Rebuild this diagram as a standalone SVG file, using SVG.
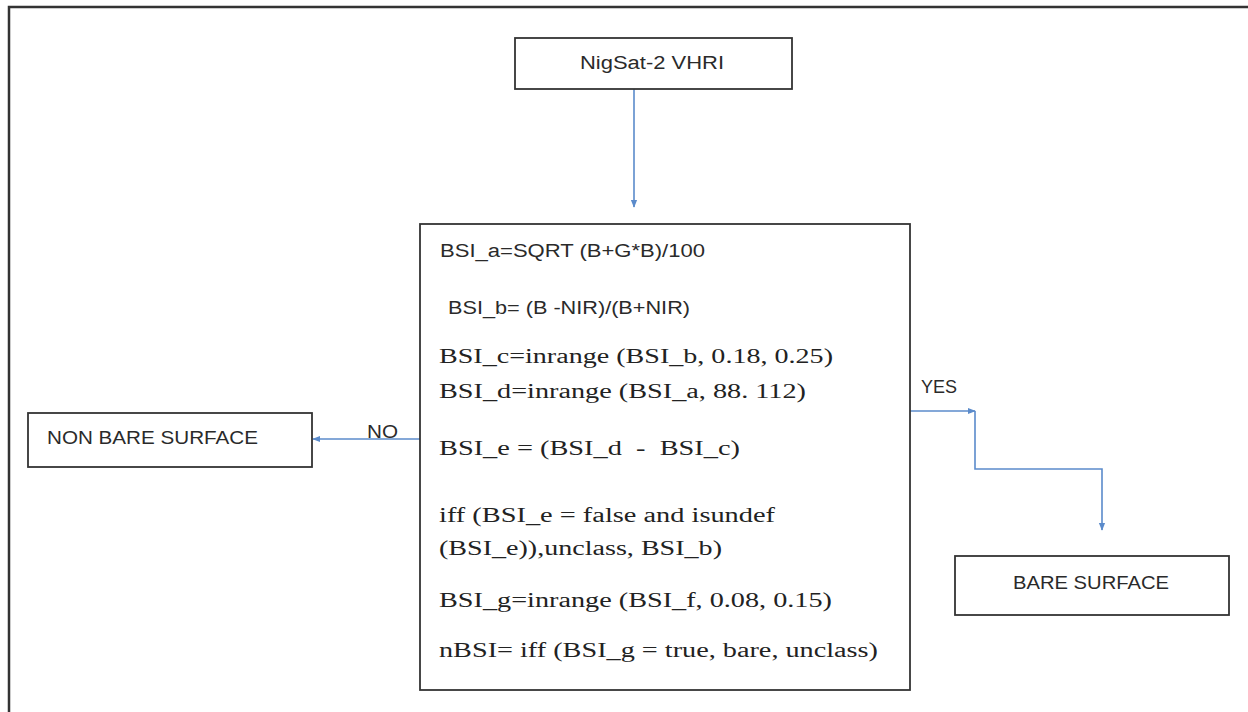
<svg xmlns="http://www.w3.org/2000/svg" width="1248" height="712" viewBox="0 0 1248 712">
<style>
.box{fill:#fff;stroke:#333;stroke-width:1.8}
.sans{font-family:"Liberation Sans","Open Sans",Arial,sans-serif;font-size:18px;fill:#2a2a2a}
.serif{font-family:"Liberation Serif","Times New Roman",serif;font-size:20px;fill:#222}
.con{fill:none;stroke:#5b8bcb;stroke-width:1.6}
</style>
<defs>
<marker id="ah" viewBox="0 0 10 10" refX="9" refY="5" markerWidth="8" markerHeight="8" orient="auto" markerUnits="userSpaceOnUse">
<path d="M0,1 L10,5 L0,9 Z" fill="#5b8bcb"/>
</marker>
</defs>
<rect width="1248" height="712" fill="#fff"/>
<path d="M9,712 V7 H1248" fill="none" stroke="#333" stroke-width="2.5"/>

<g id="connectors">
<path class="con" d="M634,84 V207" marker-end="url(#ah)"/>
<path class="con" d="M420,439 H313" marker-end="url(#ah)"/>
<path class="con" d="M910,411 H975" marker-end="url(#ah)"/>
<path class="con" d="M975,411 V469 H1102 V530" marker-end="url(#ah)"/>
<text class="sans" x="367" y="438" textLength="31" lengthAdjust="spacingAndGlyphs">NO</text>
<text class="sans" x="921" y="393" textLength="36" lengthAdjust="spacingAndGlyphs">YES</text>
</g>

<g id="nigsat">
<rect class="box" x="515" y="38" width="277" height="51"/>
<text class="sans" x="580" y="69" textLength="144" lengthAdjust="spacingAndGlyphs">NigSat-2 VHRI</text>
</g>

<g id="bsi">
<rect class="box" x="420" y="224" width="490" height="466" stroke-width="2.2"/>
<text class="sans" x="440" y="257" textLength="265" lengthAdjust="spacingAndGlyphs">BSI_a=SQRT (B+G*B)/100</text>
<text class="sans" x="448" y="314" textLength="242" lengthAdjust="spacingAndGlyphs">BSI_b= (B -NIR)/(B+NIR)</text>
<text class="serif" x="439" y="363" textLength="394" lengthAdjust="spacingAndGlyphs">BSI_c=inrange (BSI_b, 0.18, 0.25)</text>
<text class="serif" x="439" y="398" textLength="367" lengthAdjust="spacingAndGlyphs">BSI_d=inrange (BSI_a, 88. 112)</text>
<text class="serif" x="439" y="455" textLength="301" lengthAdjust="spacingAndGlyphs" xml:space="preserve">BSI_e = (BSI_d  -  BSI_c)</text>
<text class="serif" x="439" y="522" textLength="336" lengthAdjust="spacingAndGlyphs">iff (BSI_e = false and isundef</text>
<text class="serif" x="439" y="555" textLength="283" lengthAdjust="spacingAndGlyphs">(BSI_e)),unclass, BSI_b)</text>
<text class="serif" x="439" y="607" textLength="393" lengthAdjust="spacingAndGlyphs">BSI_g=inrange (BSI_f, 0.08, 0.15)</text>
<text class="serif" x="439" y="657" textLength="439" lengthAdjust="spacingAndGlyphs">nBSI= iff (BSI_g = true, bare, unclass)</text>
</g>

<g id="nonbare">
<rect class="box" x="28" y="413" width="284" height="54"/>
<text class="sans" x="47" y="444" textLength="211" lengthAdjust="spacingAndGlyphs">NON BARE SURFACE</text>
</g>

<g id="bare">
<rect class="box" x="955" y="556" width="274" height="59"/>
<text class="sans" x="1013" y="589" textLength="156" lengthAdjust="spacingAndGlyphs">BARE SURFACE</text>
</g>
</svg>
